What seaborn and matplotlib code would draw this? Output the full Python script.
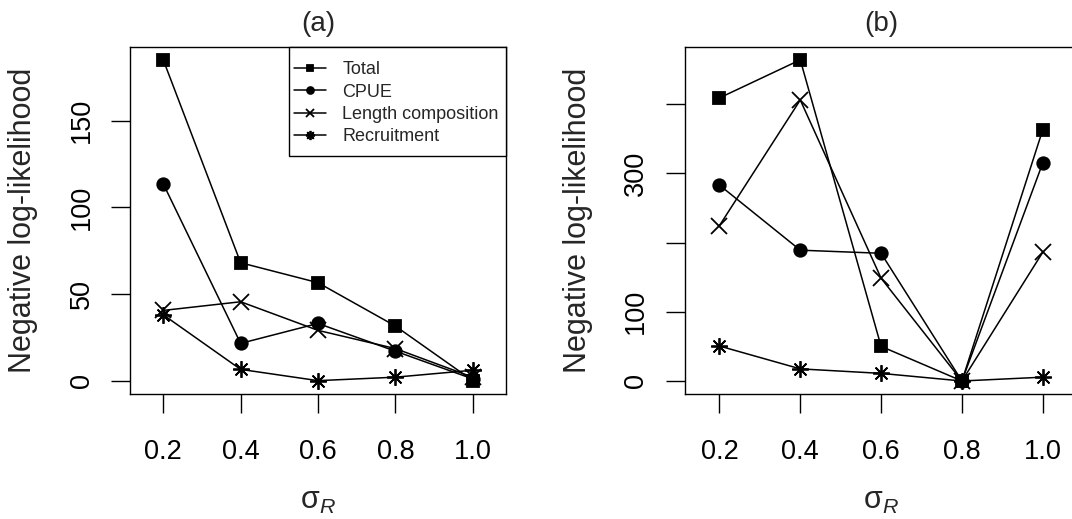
import matplotlib
matplotlib.use('Agg')
import matplotlib.pyplot as plt
from matplotlib.patches import Rectangle
import seaborn as sns
import pandas as pd

# sigma_R values on the x axis
sigma = [0.2, 0.4, 0.6, 0.8, 1.0]
series_names = ['Total', 'CPUE', 'Length composition', 'Recruitment']

# panel (a) negative log-likelihoods
total_a = [185, 68, 56.5, 31.5, 0]
cpue_a = [113.5, 21.5, 33, 17, 1]
length_a = [40.5, 45.5, 29, 18.5, 2]
recruit_a = [38, 6.5, 0, 2, 6]

# panel (b) negative log-likelihoods
total_b = [409, 464, 50, 0, 363]
cpue_b = [283, 189, 184.5, 0, 315]
length_b = [224.5, 406, 148.5, 0, 186]
recruit_b = [50.5, 17.5, 11, 0, 5.5]

yticks_a = [0, 50, 100, 150]
yticklabels_a = ['0', '50', '100', '150']
yticks_b = [0, 100, 200, 300, 400]
yticklabels_b = ['0', '100', '', '300', '']

sns.set_style('ticks')
plt.rcParams['font.family'] = ['Liberation Sans', 'DejaVu Sans']
plt.rcParams['mathtext.fontset'] = 'custom'
plt.rcParams['mathtext.rm'] = 'Liberation Sans'
plt.rcParams['mathtext.it'] = 'Liberation Sans:italic'

markers = {'Total': ('s', 9), 'CPUE': ('o', 9),
           'Length composition': ('x', 11), 'Recruitment': ((8, 2, 0), 12)}

fig = plt.figure(figsize=(10.72, 5.19), dpi=100)
ax_a = fig.add_axes([130 / 1072, 1 - 394 / 519, 376 / 1072, 347.3 / 519])
ax_b = fig.add_axes([684.7 / 1072, 1 - 394 / 519, 392.8 / 1072, 347.3 / 519])


def draw_panel(ax, values, title, ylim, yticks, yticklabels, ylab_x):
    df = pd.DataFrame({'sigma': sigma * 4,
                       'nll': sum(values, []),
                       'series': [n for n in series_names for _ in sigma]})
    for name in series_names:
        sub = df[df['series'] == name]
        m, ms = markers[name]
        sns.lineplot(data=sub, x='sigma', y='nll', ax=ax, color='black',
                     marker=m, markersize=ms, markeredgecolor='black',
                     markerfacecolor='black', markeredgewidth=1.3,
                     linewidth=1.1, label=name, legend=False)
    ax.set_xlim(0.114, 1.086)
    ax.set_ylim(*ylim)
    ax.set_xticks(sigma)
    ax.set_xticklabels(['0.2', '0.4', '0.6', '0.8', '1.0'], fontsize=19.5)
    ax.set_yticks(yticks)
    ax.set_yticklabels(yticklabels, fontsize=19.5, rotation=90, va='center')
    ax.tick_params(axis='both', direction='out', length=13.5, width=1.0,
                   color='black', labelcolor='black')
    ax.tick_params(axis='x', pad=19)
    ax.tick_params(axis='y', pad=12)
    for sp in ax.spines.values():
        sp.set_visible(True)
        sp.set_color('black')
        sp.set_linewidth(1.0)
    ax.set_title(title, fontsize=20, pad=11)
    ax.set_ylabel('Negative log-likelihood', fontsize=22)
    ax.yaxis.set_label_coords(ylab_x, 0.5)
    ax.set_xlabel(r'σ$_R$', fontsize=22)
    ax.xaxis.set_label_coords(0.5, -0.265)


draw_panel(ax_a, [total_a, cpue_a, length_a, recruit_a], '(a)',
           (-7.7, 192.6), yticks_a, yticklabels_a, -0.245)
draw_panel(ax_b, [total_b, cpue_b, length_b, recruit_b], '(b)',
           (-18.8, 483), yticks_b, yticklabels_b, -0.233)

# legend box drawn separately so the padding matches the reference
box_left = (289 - 130) / 376
box_bottom = (394 - 156) / 347.3
ax_a.add_patch(Rectangle((box_left, box_bottom), 1 - box_left, 1 - box_bottom,
                         transform=ax_a.transAxes, facecolor='white',
                         edgecolor='black', linewidth=1.0, zorder=4,
                         clip_on=False))
handles, labels = ax_a.get_legend_handles_labels()
leg = ax_a.legend(handles, labels, loc='upper left',
                  bbox_to_anchor=(box_left, 1 - 10 / 347.3),
                  borderaxespad=0, borderpad=0.25, fontsize=13, frameon=False,
                  markerscale=0.55, handlelength=1.8, handletextpad=0.9,
                  labelspacing=0.3)
leg.set_zorder(5)

fig.savefig('out.png', dpi=100)
